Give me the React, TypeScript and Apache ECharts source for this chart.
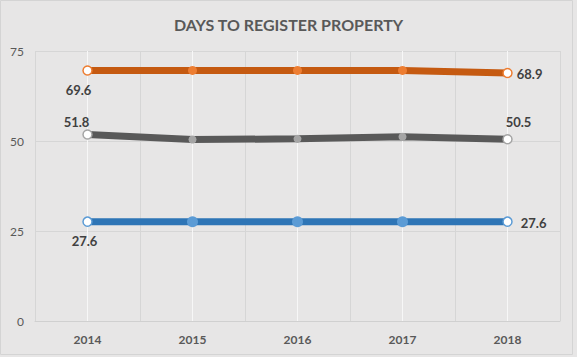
import React, { useEffect, useRef } from "react";
import * as echarts from "echarts";

const categories = ["2014", "2015", "2016", "2017", "2018"];
const orangeValues = [69.6, 69.6, 69.6, 69.6, 68.9];
const grayValues = [51.8, 50.4, 50.6, 51.2, 50.5];
const blueValues = [27.6, 27.6, 27.6, 27.6, 27.6];
const yTicks = { min: 0, max: 75, interval: 25 };
const titleText = "DAYS TO REGISTER PROPERTY";

const FONT = "Lato, 'Open Sans', sans-serif";

type LabelCfg = { position: string; offset: [number, number] };

function buildData(
  values: number[],
  markerColor: string,
  midSize: number,
  first: LabelCfg,
  last: LabelCfg
) {
  return values.map((v, i) => {
    const isEnd = i === 0 || i === values.length - 1;
    if (!isEnd) {
      return {
        value: v,
        symbolSize: midSize,
        itemStyle: { color: markerColor, borderWidth: 0 },
        label: { show: false },
      };
    }
    const cfg = i === 0 ? first : last;
    return {
      value: v,
      itemStyle: { color: "#ffffff", borderColor: markerColor, borderWidth: 1.5 },
      label: {
        show: true,
        position: cfg.position,
        offset: cfg.offset,
        formatter: (p: any) => Number(p.value).toFixed(1),
        color: "#404040",
        fontSize: 13,
        fontWeight: "bold",
        fontFamily: FONT,
      },
    };
  });
}

export default function App() {
  const ref = useRef<HTMLDivElement>(null);

  useEffect(() => {
    document.body.style.margin = "0";
    if (!ref.current) return;
    const chart = echarts.init(ref.current, undefined, { renderer: "svg" });

    const seriesBase = {
      type: "line",
      symbol: "circle",
      symbolSize: 9,
      z: 3,
    };

    chart.setOption({
      animation: false,
      backgroundColor: "#E7E6E6",
      title: {
        text: titleText,
        left: "center",
        top: 11,
        textStyle: {
          color: "#595959",
          fontSize: 16,
          fontWeight: "bold",
          fontFamily: FONT,
        },
      },
      graphic: [
        {
          type: "rect",
          shape: { x: 0.5, y: 0.5, width: 572, height: 354 },
          style: { fill: "none", stroke: "#D4D4D4", lineWidth: 1 },
          silent: true,
        },
      ],
      grid: { left: 35, right: 17, top: 51, bottom: 36 },
      xAxis: {
        type: "category",
        data: categories,
        boundaryGap: true,
        axisLine: { show: true, lineStyle: { color: "#D0D0D0" } },
        axisTick: { show: false },
        axisLabel: {
          color: "#595959",
          fontSize: 12,
          fontWeight: "bold",
          fontFamily: FONT,
          margin: 12,
        },
        splitLine: { show: true, lineStyle: { color: "#D6D6D6", width: 1 } },
      },
      yAxis: {
        type: "value",
        min: yTicks.min,
        max: yTicks.max,
        interval: yTicks.interval,
        axisLine: { show: false },
        axisTick: { show: false },
        axisLabel: {
          color: "#595959",
          fontSize: 12,
          fontFamily: FONT,
          margin: 11,
        },
        splitLine: { show: true, lineStyle: { color: "#D6D6D6", width: 1 } },
      },
      series: [
        {
          type: "line",
          data: [],
          silent: true,
          z: 1,
          markLine: {
            silent: true,
            z: 1,
            symbol: "none",
            label: { show: false },
            lineStyle: { color: "#F7F7F7", width: 1, type: "solid" },
            data: categories.map((c) => ({ xAxis: c })),
          },
        },
        {
          ...seriesBase,
          name: "orange",
          color: "#C55A11",
          lineStyle: { width: 7, color: "#C55A11" },
          data: buildData(
            orangeValues,
            "#ED7D31",
            9,
            { position: "bottom", offset: [-9, 3] },
            { position: "right", offset: [-1, 1] }
          ),
        },
        {
          ...seriesBase,
          name: "gray",
          color: "#595959",
          lineStyle: { width: 7, color: "#595959" },
          data: buildData(
            grayValues,
            "#A5A5A5",
            8,
            { position: "top", offset: [-11, 4] },
            { position: "top", offset: [11, 0] }
          ),
        },
        {
          ...seriesBase,
          name: "blue",
          color: "#2E75B6",
          lineStyle: { width: 7, color: "#2E75B6" },
          data: buildData(
            blueValues,
            "#5B9BD5",
            11,
            { position: "bottom", offset: [-3, 3] },
            { position: "right", offset: [3, 1] }
          ),
        },
      ],
    });

    return () => chart.dispose();
  }, []);

  return (
    <div
      ref={ref}
      style={{ position: "fixed", left: 0, top: 0, width: 577, height: 357 }}
    />
  );
}
